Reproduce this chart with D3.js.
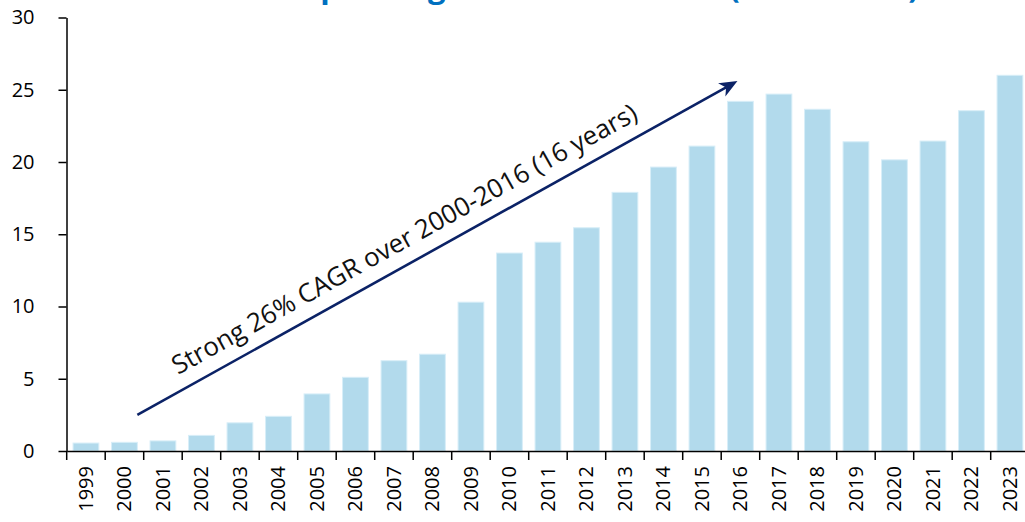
<!DOCTYPE html>
<html>
<head>
<meta charset="utf-8">
<script src="https://cdn.jsdelivr.net/npm/d3@7"></script>
<style>
  html, body { margin: 0; padding: 0; background: #fff; overflow: hidden; }
  svg { display: block; font-family: "Open Sans", "Noto Sans", sans-serif; }
</style>
</head>
<body>
<svg id="chart" width="1025" height="522"></svg>
<script>
// Annual values, 1999-2023
const years = ["1999","2000","2001","2002","2003","2004","2005","2006","2007","2008",
               "2009","2010","2011","2012","2013","2014","2015","2016","2017","2018",
               "2019","2020","2021","2022","2023"];
const values = [0.55, 0.6, 0.7, 1.08, 1.95, 2.4, 3.95, 5.1, 6.25, 6.7,
                10.3, 13.7, 14.45, 15.45, 17.9, 19.65, 21.1, 24.2, 24.7, 23.65,
                21.4, 20.15, 21.45, 23.55, 26.0];
const yTicks = [0, 5, 10, 15, 20, 25, 30];

const titleText = "Annual spending on infrastructure (USD billion)";
const noteText = "Strong 26% CAGR over 2000-2016 (16 years)";
// Trend arrow runs from the 2000 bar to the 2016 bar
const arrowFrom = { year: "2000", value: 2.5 };
const arrowTo = { year: "2016", value: 25.6 };

const svg = d3.select("#chart");

const x = d3.scaleBand()
  .domain(years)
  .range([66.7, 1029.2])
  .paddingInner(0.33)
  .paddingOuter(0.165);

const y = d3.scaleLinear()
  .domain([0, 30])
  .range([451, 17.5]);

// Title (sits above the top edge; only its descenders reach the page)
svg.append("text")
  .attr("x", 186)
  .attr("y", -2.5)
  .attr("fill", "#0070c0")
  .attr("font-weight", "bold")
  .attr("font-size", 31)
  .text(titleText);

// Bars
svg.append("g")
  .selectAll("rect")
  .data(years.map((yr, i) => ({ yr, v: values[i] })))
  .join("rect")
  .attr("x", d => x(d.yr))
  .attr("width", x.bandwidth())
  .attr("y", d => y(d.v))
  .attr("height", d => y(0) - y(d.v))
  .attr("fill", "#b2daec")
  .attr("stroke", "#d8eef8")
  .attr("stroke-width", 1);

// Y axis
const yAxis = svg.append("g")
  .attr("transform", "translate(66.5,0)")
  .call(d3.axisLeft(y).tickValues(yTicks).tickSize(8).tickPadding(24).tickSizeOuter(0));
yAxis.select(".domain").attr("stroke", "#000").attr("stroke-width", 1.5);
yAxis.selectAll(".tick line").attr("stroke", "#000").attr("stroke-width", 1.5);
yAxis.selectAll(".tick text")
  .attr("font-size", 20)
  .attr("fill", "#000")
  .attr("font-family", "'Open Sans', sans-serif");

// X axis: labels centred under bars, ticks on the category boundaries
const xAxis = svg.append("g")
  .attr("transform", `translate(0,${y(0)})`)
  .call(d3.axisBottom(x).tickSize(0).tickSizeOuter(0));
xAxis.select(".domain").attr("stroke", "#000").attr("stroke-width", 1.5);
xAxis.selectAll(".tick text")
  .attr("font-size", 20)
  .attr("fill", "#000")
  .attr("font-family", "'Open Sans', sans-serif")
  .attr("transform", "rotate(-90)")
  .attr("text-anchor", "end")
  .attr("x", -15)
  .attr("y", 0)
  .attr("dy", "0.35em");

const half = x.step() * x.paddingInner() / 2;
const bounds = years.map(d => x(d) - half).concat([x(years[years.length - 1]) + x.bandwidth() + half]);
svg.append("g")
  .selectAll("line")
  .data(bounds)
  .join("line")
  .attr("x1", d => d).attr("x2", d => d)
  .attr("y1", y(0)).attr("y2", y(0) + 9)
  .attr("stroke", "#000")
  .attr("stroke-width", 1.5);

// Trend arrow with label
const x0 = x(arrowFrom.year) + x.bandwidth(), y0 = y(arrowFrom.value);
const x1 = x(arrowTo.year) + x.bandwidth() / 2 - 3, y1 = y(arrowTo.value);
const dx = x1 - x0, dy = y1 - y0, len = Math.hypot(dx, dy);
const ux = dx / len, uy = dy / len;
const nx = uy, ny = -ux; // normal pointing above the line
const headLen = 18, headHalf = 7.5, notch = 5;
const arrowColor = "#0b2266";

svg.append("line")
  .attr("x1", x0).attr("y1", y0)
  .attr("x2", x1 - ux * (headLen - notch)).attr("y2", y1 - uy * (headLen - notch))
  .attr("stroke", arrowColor)
  .attr("stroke-width", 2.6);

const bx = x1 - ux * headLen, by = y1 - uy * headLen;
svg.append("path")
  .attr("d", d3.line()([
    [x1, y1],
    [bx - nx * headHalf, by - ny * headHalf],
    [x1 - ux * (headLen - notch), y1 - uy * (headLen - notch)],
    [bx + nx * headHalf, by + ny * headHalf]
  ]) + "Z")
  .attr("fill", arrowColor);

const angle = Math.atan2(dy, dx) * 180 / Math.PI;
const tx = x0 + ux * 55 + nx * 15, ty = y0 + uy * 55 + ny * 15;
const note = svg.append("text")
  .attr("transform", `translate(${tx},${ty}) rotate(${angle})`)
  .attr("font-size", 23)
  .attr("fill", "#111")
  .text(noteText);
const w = note.node().getComputedTextLength();
note.attr("font-size", 23 * 528 / w);
</script>
</body>
</html>
